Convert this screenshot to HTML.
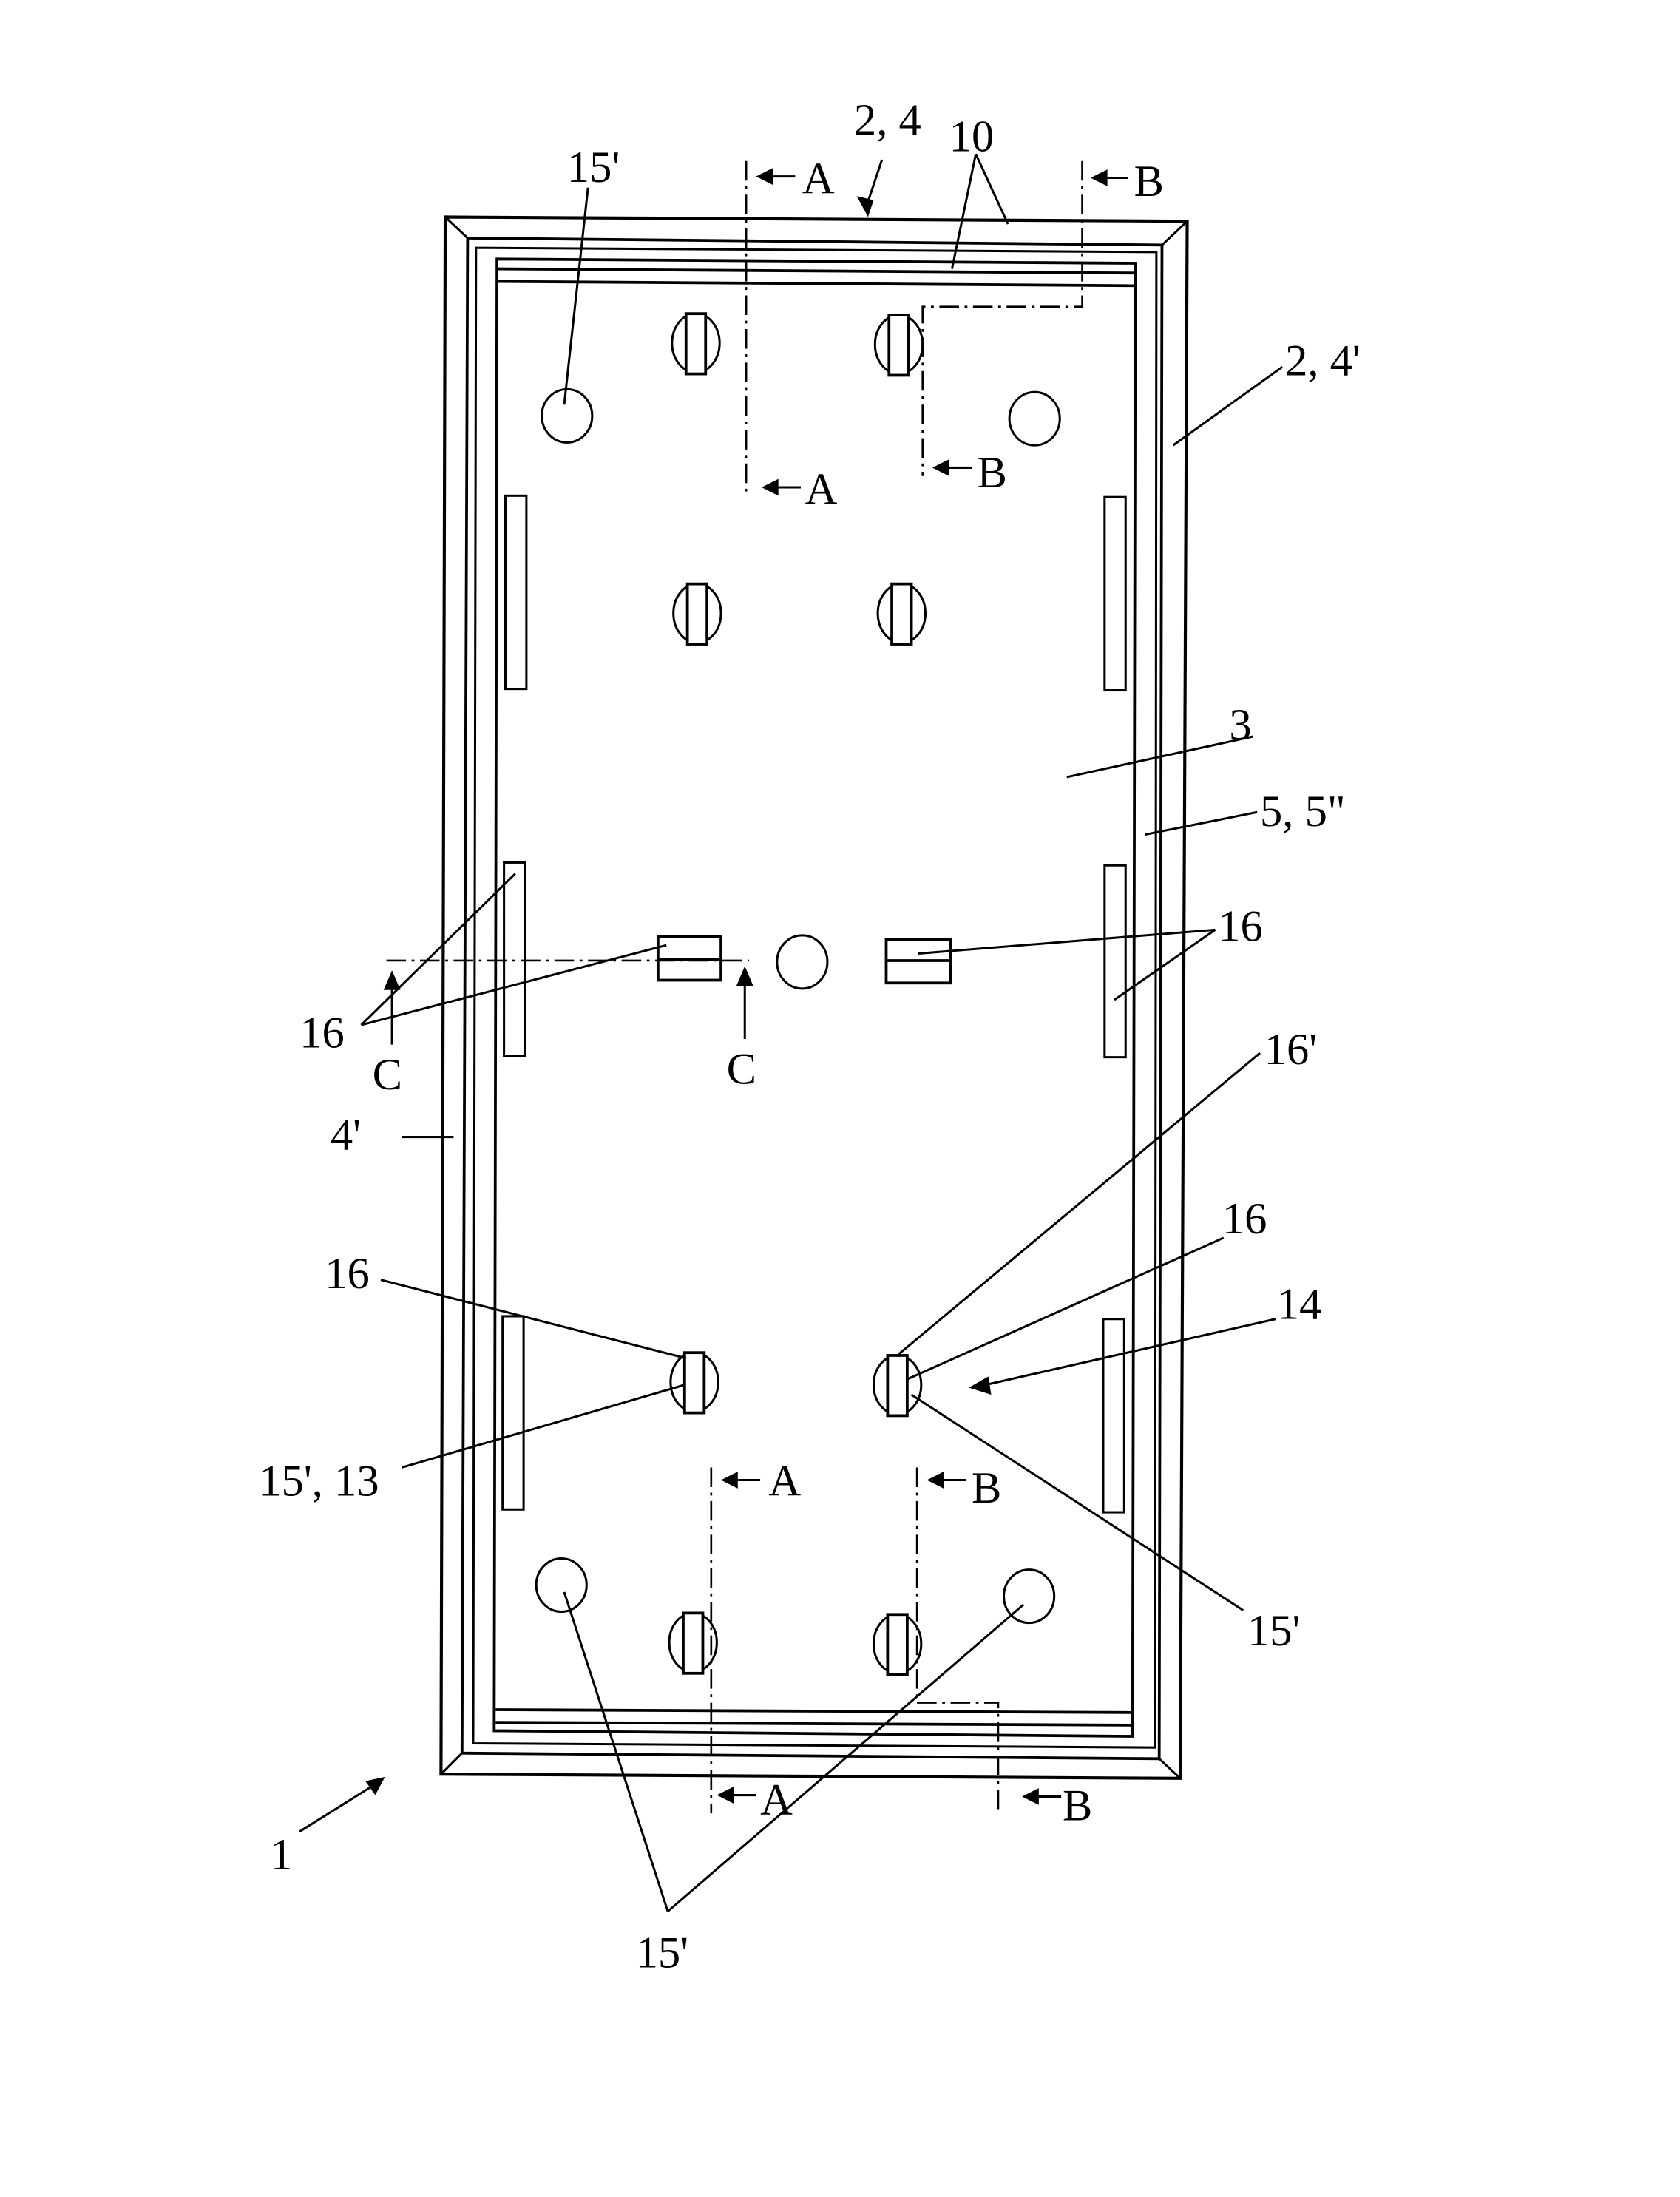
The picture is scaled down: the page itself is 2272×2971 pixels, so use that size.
<!DOCTYPE html>
<html><head><meta charset="utf-8"><style>html,body{margin:0;padding:0;background:#fff}svg{display:block}</style></head>
<body>
<svg width="2272" height="2971" viewBox="0 0 1200 1569" preserveAspectRatio="none" xmlns="http://www.w3.org/2000/svg" font-family="Liberation Serif, serif" font-size="32" fill="none" stroke="#000" stroke-width="1.6">
<!-- frame -->
<polygon points="318,155 848,158 843,1270 315,1267" stroke-width="2.2"/>
<line x1="318" y1="155" x2="334" y2="170"/><line x1="848" y1="158" x2="830" y2="175"/>
<line x1="315" y1="1267" x2="330" y2="1252"/><line x1="843" y1="1270" x2="828" y2="1256"/>
<polygon points="334,170 830,175 828,1256 330,1252" stroke-width="2"/>
<polygon points="340,177 826,180 825,1248 338,1245" stroke-width="1.6"/>
<polygon points="355,185 811,188 809,1240 353,1236" stroke-width="2"/>
<line x1="356" y1="192" x2="811" y2="195" stroke-width="2"/>
<line x1="356" y1="201" x2="810" y2="204" stroke-width="2"/>
<line x1="354" y1="1221" x2="808" y2="1223" stroke-width="2"/>
<line x1="354" y1="1230" x2="808" y2="1232" stroke-width="2"/>
<!-- side slots -->
<rect x="361" y="354" width="15" height="138"/><rect x="789" y="355" width="15" height="138"/>
<rect x="360" y="616" width="15" height="138"/><rect x="789" y="618" width="15" height="137"/>
<rect x="359" y="940" width="15" height="138"/><rect x="788" y="942" width="15" height="138"/>
<!-- big circles -->
<ellipse cx="405" cy="297" rx="18" ry="19"/><ellipse cx="739" cy="299" rx="18" ry="19"/>
<ellipse cx="573" cy="687" rx="18" ry="19"/>
<ellipse cx="401" cy="1132" rx="18" ry="19"/><ellipse cx="735" cy="1140" rx="18" ry="19"/>
<!-- slotted pins -->
<g>
<ellipse cx="497" cy="245" rx="17" ry="21"/><rect x="490" y="224" width="14" height="43" fill="#fff" stroke-width="2"/>
<ellipse cx="642" cy="246" rx="17" ry="21"/><rect x="635" y="225" width="14" height="43" fill="#fff" stroke-width="2"/>
<ellipse cx="498" cy="438" rx="17" ry="21"/><rect x="491" y="417" width="14" height="43" fill="#fff" stroke-width="2"/>
<ellipse cx="644" cy="438" rx="17" ry="21"/><rect x="637" y="417" width="14" height="43" fill="#fff" stroke-width="2"/>
<ellipse cx="496" cy="987" rx="17" ry="21"/><rect x="489" y="966" width="14" height="43" fill="#fff" stroke-width="2"/>
<ellipse cx="641" cy="989" rx="17" ry="21"/><rect x="634" y="968" width="14" height="43" fill="#fff" stroke-width="2"/>
<ellipse cx="495" cy="1173" rx="17" ry="21"/><rect x="488" y="1152" width="14" height="43" fill="#fff" stroke-width="2"/>
<ellipse cx="641" cy="1174" rx="17" ry="21"/><rect x="634" y="1153" width="14" height="43" fill="#fff" stroke-width="2"/>
</g>
<!-- C blocks -->
<rect x="470" y="669" width="45" height="31" stroke-width="2"/><line x1="470" y1="685" x2="515" y2="685" stroke-width="2"/>
<rect x="633" y="671" width="46" height="31" stroke-width="2"/><line x1="633" y1="686" x2="679" y2="686" stroke-width="2"/>
<!-- section lines dash-dot -->
<g stroke-dasharray="14,4,2,4" stroke-width="1.4">
<polyline points="533,115 533,352"/>
<polyline points="773,115 773,219 659,219 659,340"/>
<polyline points="276,686 535,686"/>
<polyline points="508,1048 508,1295"/>
<polyline points="655,1048 655,1216 713,1216 713,1292"/>
</g>
<!-- arrows -->
<g fill="#000" stroke="none">
<polygon points="540,126 552,120 552,132"/><polygon points="544,348 556,342 556,354"/>
<polygon points="779,127 791,121 791,133"/><polygon points="666,334 678,328 678,340"/>
<polygon points="515,1057 527,1051 527,1063"/><polygon points="662,1057 674,1051 674,1063"/>
<polygon points="512,1282 524,1276 524,1288"/><polygon points="730,1283 742,1277 742,1289"/>
<polygon points="280,693 274,707 286,707"/><polygon points="532,690 526,704 538,704"/>
<polygon points="620,155 612,140 624,143"/><polygon points="275,1269 261,1272 268,1282"/>
<polygon points="692,991 706,983 708,996"/>
</g>
<g stroke-width="1.6">
<line x1="552" y1="126" x2="568" y2="126"/><line x1="556" y1="348" x2="572" y2="348"/>
<line x1="791" y1="127" x2="806" y2="127"/><line x1="678" y1="334" x2="694" y2="334"/>
<line x1="527" y1="1057" x2="543" y2="1057"/><line x1="674" y1="1057" x2="690" y2="1057"/>
<line x1="524" y1="1282" x2="540" y2="1282"/><line x1="742" y1="1283" x2="758" y2="1283"/>
<line x1="280" y1="705" x2="280" y2="746"/><line x1="532" y1="702" x2="532" y2="742"/>
<line x1="630" y1="114" x2="618" y2="150"/>
<line x1="214" y1="1308" x2="270" y2="1273"/>
<line x1="911" y1="942" x2="704" y2="989"/>
<!-- leaders -->
<line x1="420" y1="134" x2="403" y2="289"/>
<line x1="697" y1="110" x2="680" y2="192"/><line x1="697" y1="110" x2="720" y2="160"/>
<line x1="916" y1="262" x2="838" y2="318"/>
<line x1="895" y1="526" x2="762" y2="555"/>
<line x1="898" y1="580" x2="818" y2="596"/>
<line x1="868" y1="664" x2="656" y2="681"/><line x1="868" y1="664" x2="796" y2="714"/>
<line x1="258" y1="732" x2="368" y2="624"/><line x1="258" y1="732" x2="476" y2="675"/>
<line x1="287" y1="812" x2="324" y2="812"/>
<line x1="900" y1="752" x2="642" y2="967"/>
<line x1="874" y1="884" x2="648" y2="985"/>
<line x1="272" y1="914" x2="490" y2="970"/>
<line x1="287" y1="1048" x2="489" y2="989"/>
<line x1="888" y1="1150" x2="651" y2="996"/>
<line x1="477" y1="1365" x2="403" y2="1137"/><line x1="477" y1="1365" x2="731" y2="1146"/>
</g>
<!-- labels -->
<g fill="#000" stroke="none">
<text x="405" y="130">15'</text>
<text x="610" y="96">2, 4</text>
<text x="678" y="108">10</text>
<text x="573" y="138">A</text>
<text x="810" y="140">B</text>
<text x="575" y="360">A</text>
<text x="698" y="348">B</text>
<text x="918" y="268">2, 4'</text>
<text x="878" y="528">3</text>
<text x="900" y="590">5, 5"</text>
<text x="870" y="672">16</text>
<text x="214" y="748">16</text>
<text x="266" y="778">C</text>
<text x="519" y="774">C</text>
<text x="236" y="821">4'</text>
<text x="903" y="760">16'</text>
<text x="873" y="881">16</text>
<text x="912" y="942">14</text>
<text x="232" y="920">16</text>
<text x="185" y="1068">15', 13</text>
<text x="549" y="1068">A</text>
<text x="694" y="1073">B</text>
<text x="891" y="1175">15'</text>
<text x="543" y="1296">A</text>
<text x="759" y="1300">B</text>
<text x="193" y="1335">1</text>
<text x="454" y="1405">15'</text>
</g>
</svg>
</body></html>
